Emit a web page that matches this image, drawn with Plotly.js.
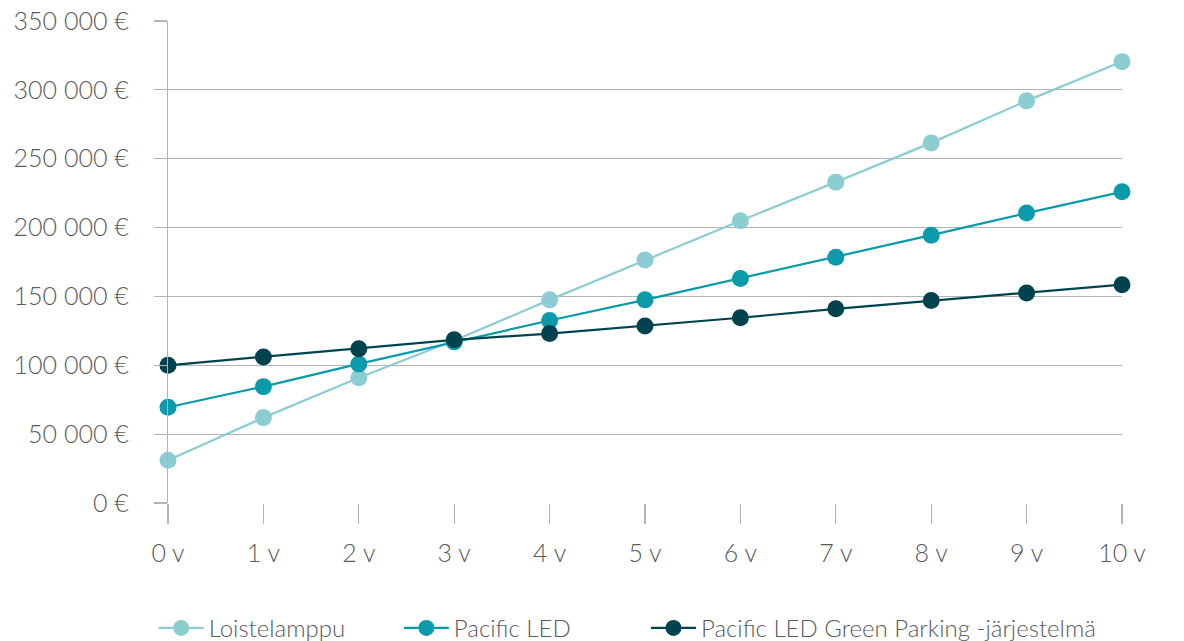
<!DOCTYPE html>
<html><head><meta charset="utf-8">
<script src="https://cdn.plot.ly/plotly-3.0.1.min.js"></script>
<style>html,body{margin:0;padding:0;background:#fff;}#chart{width:1184px;height:641px;}</style>
</head><body><div id="chart"></div>
<script>
const years = [0,1,2,3,4,5,6,7,8,9,10];
const yearLabels = ["0 v","1 v","2 v","3 v","4 v","5 v","6 v","7 v","8 v","9 v","10 v"];
const loistelamppu = [31000,62000,91000,118000,147500,176500,205000,233000,261500,292000,320500];
const pacificLED = [69500,84500,101000,117000,132500,147500,163000,178500,194500,210500,226000];
const greenParking = [100000,106000,112000,118500,123000,128500,134500,141000,147000,152500,158500];
const seriesNames = ["Loistelamppu","Pacific LED","Pacific LED Green Parking -järjestelmä"];
const yTickVals = [0,50000,100000,150000,200000,250000,300000,350000];
const yTickText = ["0 €","50 000 €","100 000 €","150 000 €","200 000 €","250 000 €","300 000 €","350 000 €"];
const colors = ["#8ccdd2","#0a9aa9","#00434f"];
const legendIds = ["legend","legend2","legend3"];
const legendX = [-0.015, 0.242, 0.501];

const font = {family:"Lato, 'Open Sans', sans-serif", size:25, color:"#5a5a5a", weight:300};
const data = [loistelamppu, pacificLED, greenParking].map((vals,i)=>({
  type:"scatter", mode:"lines+markers", x:years, y:vals, name:seriesNames[i],
  line:{color:colors[i], width:2.2}, marker:{color:colors[i], size:17},
  cliponaxis:false, legend:legendIds[i]
}));
const layout = {
  width:1184, height:641,
  margin:{l:168, r:62, t:21, b:138, autoexpand:false},
  paper_bgcolor:"#fff", plot_bgcolor:"#fff",
  font:font, showlegend:true,
  xaxis:{range:[0,10], tickvals:years, ticktext:yearLabels, showgrid:false, zeroline:false,
    showline:false, ticks:"outside", ticklen:20, tickwidth:1.3, tickcolor:"#b3b3b3",
    ticklabelstandoff:8, tickfont:font},
  yaxis:{range:[0,350000], tickvals:yTickVals, ticktext:yTickText, showgrid:true,
    gridcolor:"#b3b3b3", gridwidth:1.2, zeroline:false, showline:true, linecolor:"#b3b3b3", linewidth:1.3,
    ticks:"outside", ticklen:13, tickwidth:1.2, tickcolor:"#b3b3b3", ticklabelstandoff:20, tickfont:font}
};
legendIds.forEach((id,i)=>{
  layout[id] = {orientation:"h", x:legendX[i], xanchor:"left", y:-0.26, yanchor:"middle",
    font:{family:font.family, size:24, color:"#5a5a5a", weight:300}, itemwidth:45, bgcolor:"rgba(0,0,0,0)"};
});
Plotly.newPlot("chart", data, layout, {displayModeBar:false, staticPlot:true});
</script></body></html>
